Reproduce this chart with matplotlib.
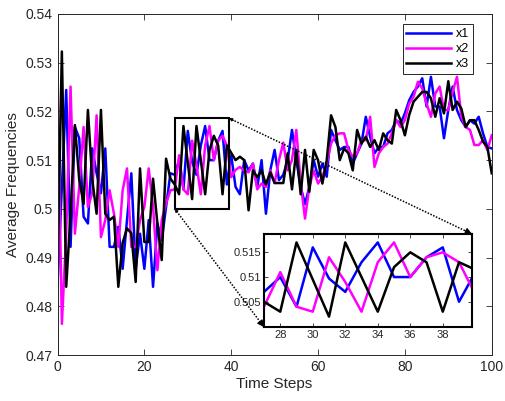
import matplotlib
matplotlib.use("Agg")
import matplotlib.pyplot as plt
from matplotlib.patches import Rectangle, FancyArrowPatch
from matplotlib.lines import Line2D

plt.rcParams['font.family'] = ['Liberation Sans', 'DejaVu Sans']

time_steps = list(range(0, 101))

x1 = [0.4843, 0.5045, 0.5244, 0.4922, 0.5168, 0.5145, 0.4984, 0.4970, 0.5124, 0.5073,
      0.5032, 0.5124, 0.4922, 0.4922, 0.4963, 0.4877, 0.4977, 0.5073, 0.4877, 0.4949,
      0.4877, 0.4977, 0.4840, 0.4970, 0.4936, 0.5004, 0.5073, 0.5070, 0.5100, 0.5040,
      0.5160, 0.5097, 0.5070, 0.5130, 0.5170, 0.5100, 0.5100, 0.5140, 0.5160, 0.5050,
      0.5110, 0.5045, 0.5030, 0.5100, 0.5079, 0.5093, 0.5045, 0.5100, 0.4990, 0.5079,
      0.5121, 0.5059, 0.5070, 0.5100, 0.5162, 0.5100, 0.5045, 0.5010, 0.5045, 0.5100,
      0.5066, 0.5093, 0.5066, 0.5162, 0.5141, 0.5121, 0.5127, 0.5127, 0.5093, 0.5114,
      0.5134, 0.5189, 0.5148, 0.5114, 0.5127, 0.5127, 0.5155, 0.5162, 0.5182, 0.5175,
      0.5196, 0.5223, 0.5240, 0.5251, 0.5268, 0.5210, 0.5271, 0.5210, 0.5210, 0.5145,
      0.5203, 0.5251, 0.5203, 0.5182, 0.5168, 0.5182, 0.5175, 0.5189, 0.5155, 0.5127,
      0.5124]

x2 = [0.5271, 0.4764, 0.4949, 0.5251, 0.4949, 0.5045, 0.5168, 0.5004, 0.5032, 0.5192,
      0.4942, 0.4977, 0.5038, 0.4990, 0.4922, 0.5038, 0.5083, 0.4922, 0.4922, 0.4977,
      0.5004, 0.5083, 0.5004, 0.4874, 0.4977, 0.5011, 0.5038, 0.5040, 0.5110, 0.5040,
      0.5030, 0.5140, 0.5090, 0.5030, 0.5130, 0.5170, 0.5100, 0.5140, 0.5150, 0.5130,
      0.5065, 0.5080, 0.5086, 0.5079, 0.5075, 0.5093, 0.5040, 0.5052, 0.5045, 0.5079,
      0.5053, 0.5100, 0.5136, 0.5079, 0.5100, 0.5162, 0.5053, 0.4980, 0.5045, 0.5079,
      0.5052, 0.5066, 0.5093, 0.5134, 0.5151, 0.5155, 0.5155, 0.5121, 0.5107, 0.5114,
      0.5141, 0.5141, 0.5189, 0.5086, 0.5114, 0.5127, 0.5134, 0.5155, 0.5182, 0.5168,
      0.5182, 0.5216, 0.5230, 0.5261, 0.5247, 0.5216, 0.5189, 0.5237, 0.5251, 0.5203,
      0.5203, 0.5240, 0.5271, 0.5190, 0.5168, 0.5162, 0.5131, 0.5131, 0.5141, 0.5121,
      0.5151]

x3 = [0.4874, 0.5323, 0.4840, 0.4990, 0.5172, 0.5060, 0.5010, 0.5203, 0.5060, 0.4990,
      0.5203, 0.4990, 0.4977, 0.4984, 0.4840, 0.4930, 0.4960, 0.4950, 0.4850, 0.5083,
      0.4932, 0.4932, 0.5062, 0.4970, 0.4895, 0.5103, 0.5062, 0.5050, 0.5030, 0.5170,
      0.5095, 0.5020, 0.5170, 0.5100, 0.5030, 0.5120, 0.5150, 0.5130, 0.5030, 0.5130,
      0.5115, 0.5100, 0.5107, 0.5100, 0.4997, 0.5079, 0.5065, 0.5079, 0.5050, 0.5075,
      0.5053, 0.5053, 0.5053, 0.5114, 0.5040, 0.5121, 0.5030, 0.5121, 0.5035, 0.5121,
      0.5100, 0.5052, 0.5100, 0.5192, 0.5168, 0.5100, 0.5124, 0.5114, 0.5079, 0.5162,
      0.5134, 0.5148, 0.5127, 0.5141, 0.5121, 0.5155, 0.5141, 0.5134, 0.5203, 0.5182,
      0.5151, 0.5193, 0.5220, 0.5230, 0.5240, 0.5240, 0.5227, 0.5189, 0.5227, 0.5196,
      0.5262, 0.5203, 0.5220, 0.5206, 0.5168, 0.5182, 0.5182, 0.5162, 0.5138, 0.5127,
      0.5073]

series_names = ['x1', 'x2', 'x3']
series_colors = ['#0000ff', '#ff00ff', '#000000']
main_xticks = [0, 20, 40, 60, 80, 100]
main_yticks = [0.47, 0.48, 0.49, 0.5, 0.51, 0.52, 0.53, 0.54]
inset_xticks = [28, 30, 32, 34, 36, 38]
inset_yticks = [0.505, 0.51, 0.515]
zoom_x = (27, 39.5)
zoom_y = (0.5, 0.5186)

fig = plt.figure(figsize=(5.05, 4.01), dpi=100)
ax = fig.add_axes([0.1139, 0.1147, 0.8598, 0.8504])

for vals, name, col in zip([x1, x2, x3], series_names, series_colors):
    ax.plot(time_steps, vals, color=col, lw=1.8, label=name)

ax.set_xlim(0, 100)
ax.set_ylim(0.47, 0.54)
ax.set_xticks(main_xticks)
ax.set_xticklabels([str(v) for v in main_xticks])
ax.set_yticks(main_yticks)
ax.set_yticklabels(['0.47', '0.48', '0.49', '0.5', '0.51', '0.52', '0.53', '0.54'])
ax.tick_params(direction='in', top=True, right=True, labelsize=10, length=4,
               color='#262626', labelcolor='#262626', width=0.6)
for s in ax.spines.values():
    s.set_color('#262626')
    s.set_linewidth(0.7)
ax.set_xlabel('Time Steps', fontsize=11, color='#262626', labelpad=2)
ax.set_ylabel('Average Frequencies', fontsize=11, color='#262626', labelpad=4)

leg = ax.legend(loc='upper right', bbox_to_anchor=(0.972, 0.988), fontsize=9,
                handlelength=3.6, handletextpad=0.4, borderpad=0.3,
                labelspacing=0.25, fancybox=False, framealpha=1)
leg.get_frame().set_edgecolor('#262626')
leg.get_frame().set_linewidth(0.7)

rect = Rectangle((zoom_x[0], zoom_y[0]), zoom_x[1] - zoom_x[0], zoom_y[1] - zoom_y[0],
                 fill=False, edgecolor='black', lw=1.5, zorder=5)
ax.add_patch(rect)

ins = fig.add_axes([0.5228, 0.1845, 0.4119, 0.2319])
for vals, col in zip([x1, x2, x3], series_colors):
    ins.plot(time_steps, vals, color=col, lw=1.8)
ins.set_xlim(27, 39.8)
ins.set_ylim(0.4999, 0.5187)
ins.set_xticks(inset_xticks)
ins.set_xticklabels([str(v) for v in inset_xticks])
ins.set_yticks(inset_yticks)
ins.set_yticklabels(['0.505', '0.51', '0.515'])
ins.tick_params(direction='in', top=True, right=True, labelsize=8, length=3,
                color='#262626', labelcolor='#262626', width=0.6, pad=2)
for s in ins.spines.values():
    s.set_color('black')
    s.set_linewidth(1.5)

inv = fig.transFigure.inverted()
pairs = [((zoom_x[1], zoom_y[1]), (1, 1)), ((zoom_x[0], zoom_y[0]), (0, 0))]
for (dA, aB) in pairs:
    pA = inv.transform(ax.transData.transform(dA))
    pB = inv.transform(ins.transAxes.transform(aB))
    fig.add_artist(Line2D([pA[0], pB[0]], [pA[1], pB[1]], transform=fig.transFigure,
                          color='black', lw=1.1, linestyle=(0, (1, 1))))
    dx, dy = pB[0] - pA[0], pB[1] - pA[1]
    fig.add_artist(FancyArrowPatch(posA=(pB[0] - 0.03 * dx, pB[1] - 0.03 * dy), posB=tuple(pB),
                                   transform=fig.transFigure, arrowstyle='-|>',
                                   mutation_scale=10, lw=0.8, color='black',
                                   shrinkA=0, shrinkB=0))
    fig.add_artist(FancyArrowPatch(posA=(pA[0] + 0.02 * dx, pA[1] + 0.02 * dy), posB=tuple(pA),
                                   transform=fig.transFigure, arrowstyle='-|>',
                                   mutation_scale=5, lw=0.6, color='black',
                                   shrinkA=0, shrinkB=0))

fig.savefig('out.png', dpi=100)
